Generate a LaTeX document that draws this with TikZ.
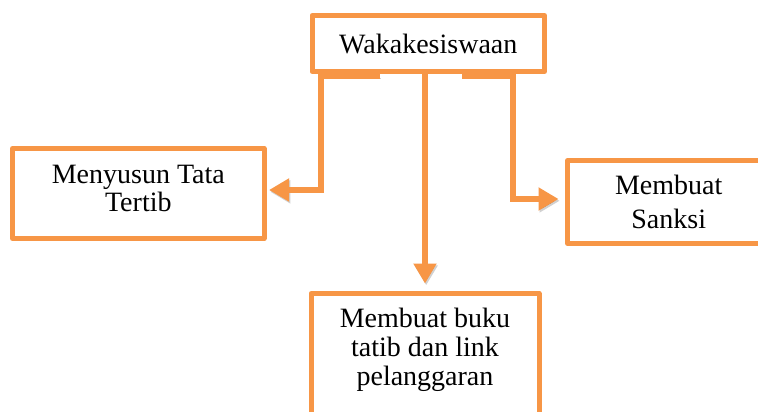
\documentclass[tikz,border=0pt]{standalone}
\usepackage{fontspec}
\setmainfont{Liberation Serif}
\usetikzlibrary{arrows.meta}
\definecolor{orng}{HTML}{F79646}
\begin{document}
\begin{tikzpicture}[x=1pt,y=-1pt,
  box/.style={draw=orng, line width=5pt, fill=white, line join=round, inner sep=0pt,
    font=\fontsize{28}{29}\selectfont},
  conn/.style={draw=orng, line width=6pt, line join=miter,
    -{Triangle[length=20pt,width=22pt]},
    preaction={draw=black, draw opacity=0.18, transform canvas={shift={(1.2pt,-1.8pt)}}}}
]
\useasboundingbox (0,0) rectangle (758,412);
\clip (0,0) rectangle (758,412);
\fill[white] (0,0) rectangle (758,412);

\node[box, minimum width=232.5, minimum height=56] (top) at (428.3,43.5) {Wakakesiswaan};
\node[box, minimum width=251.5, minimum height=90, font=\fontsize{28}{28}\selectfont] (left) at (138.3,193.5)
  {\raisebox{2pt}[\height][\depth]{\begin{tabular}{@{}c@{}}Menyusun Tata\\Tertib\end{tabular}}};
\node[box, minimum width=202.5, minimum height=82.7, font=\fontsize{28}{34}\selectfont] (right) at (668.75,202)
  {\raisebox{-2.5pt}[\height][\depth]{\begin{tabular}{@{}c@{}}Membuat\\Sanksi\end{tabular}}};
\node[box, minimum width=228, minimum height=126.5] (bottom) at (425,356.75)
  {\raisebox{6.5pt}[\height][\depth]{\begin{tabular}{@{}c@{}}Membuat buku\\tatib dan link\\pelanggaran\end{tabular}}};

\draw[conn] ([shift={(70,2)}]top.south west) -- ([shift={(11.5,2)}]top.south west)
  |- ([shift={(2.5,-3.5)}]left.east);
\draw[conn] ([shift={(-85.5,2)}]top.south east) -- ([shift={(-34.5,2)}]top.south east)
  |- ([shift={(-6.5,-3)}]right.west);
\draw[conn] (top.south -| bottom.north) -- ([yshift=7.5pt]bottom.north);
\end{tikzpicture}
\end{document}
